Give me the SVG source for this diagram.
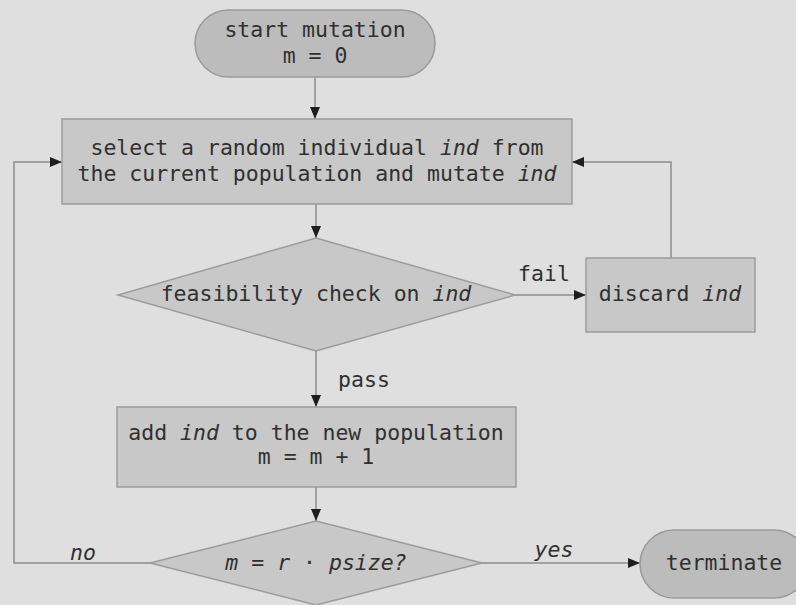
<svg xmlns="http://www.w3.org/2000/svg" width="796" height="605" viewBox="0 0 796 605">
  <defs>
    <style>
      .bg { fill: #dfdfdf; }
      .box { fill: #c8c8c8; stroke: #9c9c9c; stroke-width: 1.5; }
      .term { fill: #bcbcbc; stroke: #9a9a9a; stroke-width: 1.5; }
      .edge { fill: none; stroke: #8c8c8c; stroke-width: 1.5; }
      text { font-family: "DejaVu Sans Mono", "Liberation Mono", monospace; font-size: 21.5px; fill: #303030; }
      .c { text-anchor: middle; }
      .i { font-style: italic; }
    </style>
    <marker id="arrow" viewBox="0 0 12 10" refX="12" refY="5" markerWidth="12" markerHeight="10" markerUnits="userSpaceOnUse" orient="auto">
      <path d="M0,0 L12,5 L0,10 z" fill="#1e1e1e"/>
    </marker>
  </defs>

  <rect class="bg" x="0" y="0" width="796" height="605"/>

  <g id="connectors">
    <line class="edge" x1="315" y1="77" x2="315" y2="119" marker-end="url(#arrow)"/>
    <line class="edge" x1="316" y1="204" x2="316" y2="238" marker-end="url(#arrow)"/>
    <line class="edge" x1="515" y1="295" x2="586" y2="295" marker-end="url(#arrow)"/>
    <polyline class="edge" points="671,258 671,162 572,162" marker-end="url(#arrow)"/>
    <line class="edge" x1="316" y1="351" x2="316" y2="407" marker-end="url(#arrow)"/>
    <line class="edge" x1="316" y1="487" x2="316" y2="521" marker-end="url(#arrow)"/>
    <polyline class="edge" points="150,563 14,563 14,162 62,162" marker-end="url(#arrow)"/>
    <line class="edge" x1="482" y1="563" x2="640" y2="563" marker-end="url(#arrow)"/>
    <text x="544" y="281" class="c">fail</text>
    <text x="364" y="387" class="c">pass</text>
    <text x="83" y="560" class="c i">no</text>
    <text x="554" y="557" class="c i">yes</text>
  </g>

  <g id="start">
    <rect class="term" x="195" y="10" width="240" height="67" rx="33.5" ry="33.5"/>
    <text x="315" y="37" class="c">start mutation</text>
    <text x="315" y="63" class="c">m = 0</text>
  </g>

  <g id="select">
    <rect class="box" x="62" y="119" width="510" height="85"/>
    <text x="317" y="155" class="c">select a random individual <tspan class="i">ind</tspan> from</text>
    <text x="317" y="181" class="c">the current population and mutate <tspan class="i">ind</tspan></text>
  </g>

  <g id="feasibility">
    <polygon class="box" points="316,238 515,295 316,351 118,295"/>
    <text x="316" y="301" class="c">feasibility check on <tspan class="i">ind</tspan></text>
  </g>

  <g id="discard">
    <rect class="box" x="586" y="258" width="169" height="74"/>
    <text x="670" y="301" class="c">discard <tspan class="i">ind</tspan></text>
  </g>

  <g id="add">
    <rect class="box" x="117" y="407" width="399" height="80"/>
    <text x="316" y="440" class="c">add <tspan class="i">ind</tspan> to the new population</text>
    <text x="316" y="464" class="c">m = m + 1</text>
  </g>

  <g id="check">
    <polygon class="box" points="316,521 482,563 316,605 150,563"/>
    <text x="316" y="570" class="c"><tspan class="i">m</tspan> = <tspan class="i">r</tspan> · <tspan class="i">psize?</tspan></text>
  </g>

  <g id="terminate">
    <rect class="term" x="640" y="530" width="168" height="68" rx="34" ry="34"/>
    <text x="724" y="570" class="c">terminate</text>
  </g>
</svg>
